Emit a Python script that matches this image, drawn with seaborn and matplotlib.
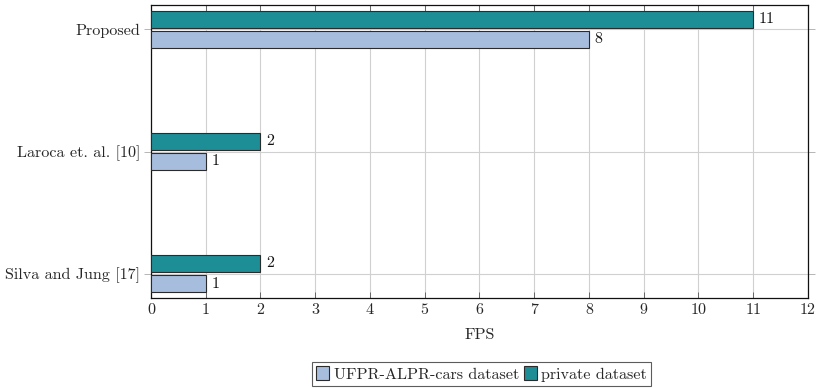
import matplotlib
matplotlib.use("Agg")
import matplotlib.pyplot as plt
from matplotlib.patches import Patch
import seaborn as sns
import pandas as pd

# FPS of each ALPR approach on the two evaluation datasets
methods = ["Proposed", "Laroca et. al. [10]", "Silva and Jung [17]"]
fps_private = [11, 2, 2]
fps_ufpr = [8, 1, 1]
series_names = ["private dataset", "UFPR-ALPR-cars dataset"]
x_ticks = list(range(0, 13))

colors = {"private dataset": "#1e8e96", "UFPR-ALPR-cars dataset": "#a7bddd"}

df = pd.DataFrame({
    "method": methods * 2,
    "fps": fps_private + fps_ufpr,
    "dataset": [series_names[0]] * len(methods) + [series_names[1]] * len(methods),
})

sns.set_style("white")
plt.rcParams["font.family"] = ["cmr10", "DejaVu Serif"]
plt.rcParams["axes.formatter.use_mathtext"] = True
plt.rcParams["mathtext.fontset"] = "cm"

FS = 11.6

fig = plt.figure(figsize=(8.2, 3.88), dpi=100)
ax = fig.add_axes([151 / 820, 1 - 298 / 388, (808 - 151) / 820, (298 - 5) / 388])

sns.barplot(
    data=df, x="fps", y="method", hue="dataset",
    order=methods, hue_order=series_names, palette=colors, saturation=1,
    orient="h", width=0.33, gap=0.14, edgecolor="#2b2b2b", linewidth=0.8,
    legend=False, ax=ax, zorder=3,
)

for cont in ax.containers:
    ax.bar_label(cont, padding=4, fontsize=FS, color="#111111")

ax.set_xlim(0, 12)
ax.set_ylim(2.2, -0.2)
ax.set_xticks(x_ticks)
ax.set_xticklabels([str(t) for t in x_ticks], fontsize=FS)
ax.set_yticks(range(len(methods)))
ax.set_yticklabels(methods, fontsize=FS)
ax.set_xlabel("FPS", fontsize=FS, labelpad=8)
ax.set_ylabel("")

ax.grid(True, color="#d0d0d0", linewidth=0.8, zorder=0)
ax.set_axisbelow(True)
for s in ax.spines.values():
    s.set_visible(True)
    s.set_color("#111111")
    s.set_linewidth(0.9)

ax.tick_params(axis="x", direction="in", length=4, width=0.6, color="#555555",
               top=True, bottom=True, pad=4)
ax.tick_params(axis="y", direction="out", length=5, width=0.6, color="#aaaaaa",
               left=True, right=True, pad=3)

handles = [
    Patch(facecolor=colors["UFPR-ALPR-cars dataset"], edgecolor="#2b2b2b", linewidth=0.8),
    Patch(facecolor=colors["private dataset"], edgecolor="#2b2b2b", linewidth=0.8),
]
leg = fig.legend(
    handles, ["UFPR-ALPR-cars dataset", "private dataset"],
    loc="center", bbox_to_anchor=(481.5 / 820, 1 - 374 / 388), ncol=2,
    fontsize=FS, frameon=True, fancybox=False, handlelength=0.8, handleheight=0.9,
    handletextpad=0.3, columnspacing=0.3, borderpad=0.25, borderaxespad=0,
)
leg.get_frame().set_edgecolor("#333333")
leg.get_frame().set_linewidth(0.8)

fig.savefig("out.png", dpi=100)
